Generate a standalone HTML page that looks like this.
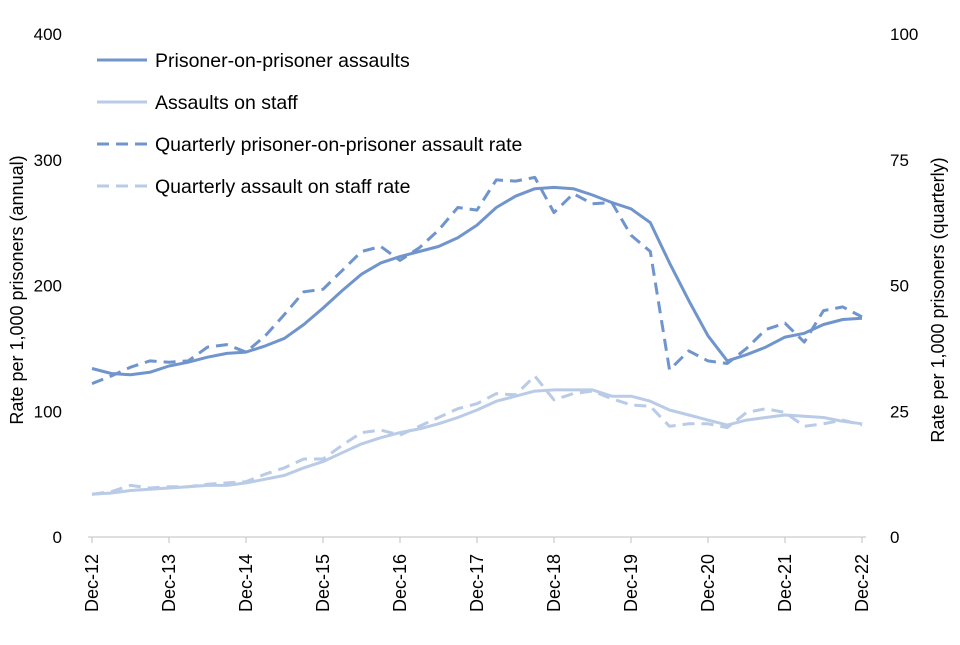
<!DOCTYPE html>
<html><head><meta charset="utf-8"><style>
body{margin:0;background:#fff;}
svg{font-family:"Liberation Sans",Arial,sans-serif;}
</style></head><body>
<svg id="chart" width="960" height="640" viewBox="0 0 960 640">
<g id="axes"></g><g id="series"></g><g id="legend"></g>
</svg>
<script>
const xLabels=["Dec-12","Dec-13","Dec-14","Dec-15","Dec-16","Dec-17","Dec-18","Dec-19","Dec-20","Dec-21","Dec-22"];
const leftTicks=[0,100,200,300,400];
const rightTicks=[0,25,50,75,100];
const popAnnual=[134,130,129,131,136,139,143,146,147,152,158,169,182,196,209,218,223,227,231,238,248,262,271,277,278,277,272,266,261,250,218,188,160,140,145,151,159,162,169,173,174];
const staffAnnual=[34,35,37,38,39,40,41,41,43,46,49,55,60,67,74,79,83,86,90,95,101,108,112,116,117,117,117,112,112,108,101,97,93,89,93,95,97,96,95,92,90];
const popQuarterly=[30.5,32,33.75,35,34.75,35,37.75,38.25,36.75,40,44.25,48.75,49.25,53,56.75,57.75,55,57.5,61,65.5,65,71,70.75,71.5,64.5,68.25,66.25,66.5,60,56.75,33.25,37,35,34.5,37.5,41.25,42.5,38.75,45,45.75,43.75];
const staffQuarterly=[8.5,9,10.25,9.75,10,10,10.5,10.75,11,12.5,13.75,15.5,15.5,18.25,20.75,21.25,20.25,22,23.75,25.5,26.5,28.5,28.25,32,27.25,28.5,29,27.5,26.25,26,22,22.5,22.5,21.75,24.75,25.5,24.75,22,22.5,23.25,22.25];
const NS="http://www.w3.org/2000/svg";
const x0=92,x1=862,yB=537,yT=34;
const xs=i=>x0+(x1-x0)*i/40;
const yL=v=>yB-(yB-yT)*v/400;
const yR=v=>yB-(yB-yT)*v/100;
function mk(tag,attrs,parent,text){const e=document.createElementNS(NS,tag);for(const k in attrs)e.setAttribute(k,attrs[k]);if(text!==undefined)e.textContent=text;parent.appendChild(e);return e;}
const ax=document.getElementById('axes');
let b=mk('line',{x1:x0-4,x2:x1+4,y1:yB,y2:yB,stroke:'#bfbfbf','stroke-width':1},ax);


leftTicks.forEach(v=>{const t=mk('text',{x:62,y:yL(v)+6,'text-anchor':'end','font-size':17,fill:'#000'},ax,String(v));

});
rightTicks.forEach(v=>{const t=mk('text',{x:890,y:yR(v)+6,'font-size':17,fill:'#000'},ax,String(v));

});
xLabels.forEach((l,k)=>{const x=xs(k*4);
const tk=mk('line',{x1:x,x2:x,y1:yB,y2:yB+6,stroke:'#bfbfbf'},ax);


const t=mk('text',{x:x+6,y:612,'font-size':18,'text-anchor':'start',transform:`rotate(-90 ${x+6} 612)`},ax,l);

});
let yt=mk('text',{x:0,y:0,'font-size':18,'text-anchor':'middle',transform:'translate(23 290) rotate(-90)'},ax,'Rate per 1,000 prisoners (annual)');


let yt2=mk('text',{x:0,y:0,'font-size':18,'text-anchor':'middle',transform:'translate(944 300) rotate(-90)'},ax,'Rate per 1,000 prisoners (quarterly)');


const dark='#7094cc',light='#b9cbe7';
const se=document.getElementById('series');
function line(arr,sc,col,dash,name){const d=arr.map((v,i)=>(i?'L':'M')+xs(i).toFixed(1)+' '+sc(v).toFixed(1)).join(' ');
const p=mk('path',{d,fill:'none',stroke:col,'stroke-width':3,'stroke-dasharray':dash||'none','stroke-linejoin':'round'},se);

}
line(staffAnnual,yL,light,null,'staff-assaults-line');
line(staffQuarterly,yR,light,'12 7','staff-quarterly-line');
line(popAnnual,yL,dark,null,'pop-assaults-line');
line(popQuarterly,yR,dark,'12 7','pop-quarterly-line');
const lg=document.getElementById('legend');
[["Prisoner-on-prisoner assaults",dark,null],["Assaults on staff",light,null],["Quarterly prisoner-on-prisoner assault rate",dark,'12 7'],["Quarterly assault on staff rate",light,'12 7']].forEach((e,k)=>{const y=60+k*42;
const l=mk('line',{x1:97,x2:147,y1:y,y2:y,stroke:e[1],'stroke-width':3,'stroke-dasharray':e[2]||'none'},lg);


const t=mk('text',{x:155,y:y+7,'font-size':19.5},lg,e[0]);

});
</script>
</body></html>
